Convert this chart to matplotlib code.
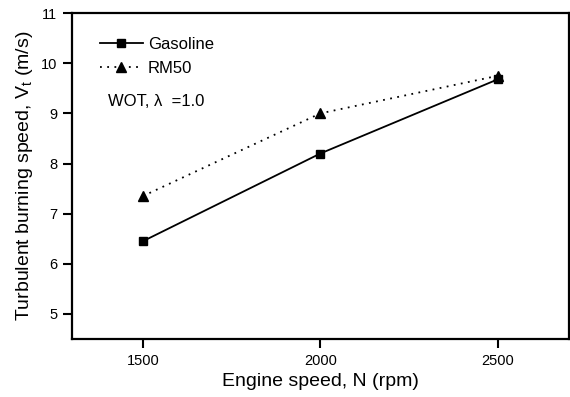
import matplotlib
matplotlib.use("Agg")
import matplotlib.pyplot as plt

# engine speed and turbulent burning speed
speed_rpm = [1500, 2000, 2500]
vt_gasoline = [6.45, 8.20, 9.68]
vt_rm50 = [7.35, 9.00, 9.75]

plt.rcParams["font.family"] = ["Liberation Sans", "DejaVu Sans"]

fig = plt.figure(figsize=(5.70, 3.97), dpi=100)
ax = fig.add_axes([0.126, 0.146, 0.872, 0.821])

ax.plot(speed_rpm, vt_gasoline, "-", color="black", lw=1.3,
        marker="s", ms=6, label="Gasoline")
ax.plot(speed_rpm, vt_rm50, color="black", lw=1.3, dashes=(1, 3),
        marker="^", ms=7, label="RM50")

ax.set_xlim(1300, 2700)
ax.set_ylim(4.5, 11)
ax.set_xticks([1500, 2000, 2500])
ax.set_yticks(range(5, 12))
ax.tick_params(direction="out", length=6.5, width=1.5, labelsize=10.5, pad=4)
for s in ax.spines.values():
    s.set_linewidth(1.6)

ax.set_xlabel("Engine speed, N (rpm)", fontsize=14)
ax.set_ylabel("Turbulent burning speed, V$_\\mathregular{t}$ (m/s)", fontsize=14)

ax.legend(loc="upper left", frameon=False, fontsize=12, handlelength=2.6,
          handletextpad=0.3, borderaxespad=0.0, labelspacing=0.55,
          borderpad=0.0, bbox_to_anchor=(0.056, 0.927))
ax.text(0.072, 0.73, "WOT, λ  =1.0", transform=ax.transAxes, fontsize=12,
        va="center")

fig.savefig("out.png", dpi=100)
